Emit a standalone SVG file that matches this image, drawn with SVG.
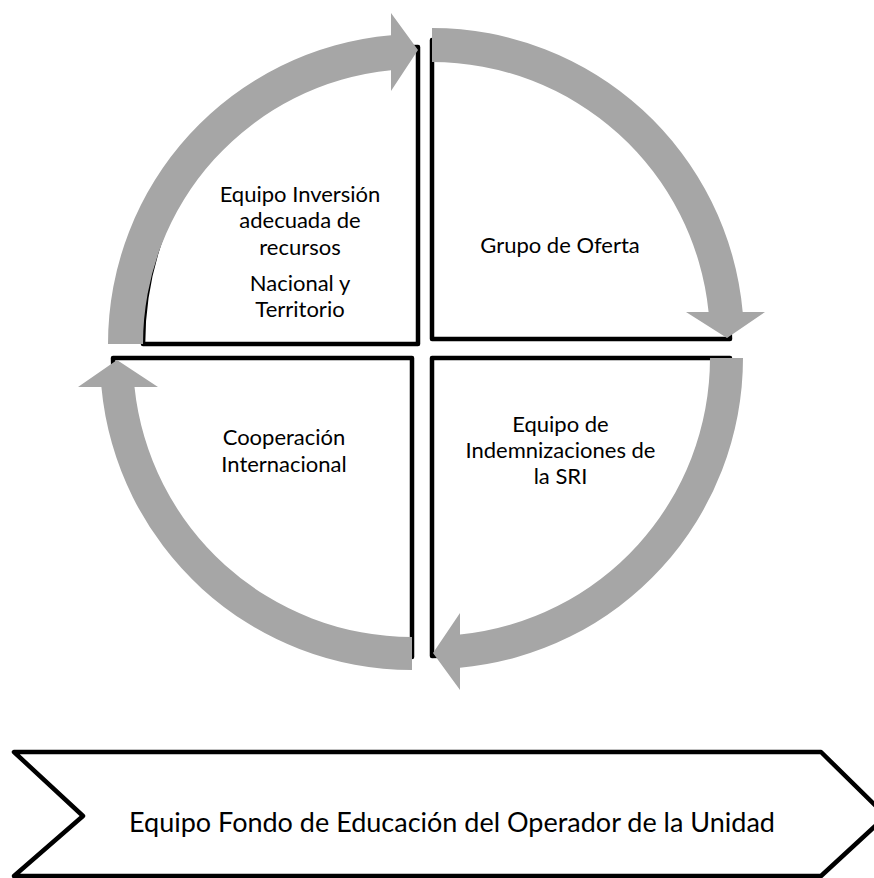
<svg xmlns="http://www.w3.org/2000/svg" width="874" height="878" viewBox="0 0 874 878">
<style>
.q{fill:#fff;stroke:#000;stroke-width:4.5;stroke-linejoin:round}
.arr{fill:#a6a6a6;stroke:none}
.t{font-family:Lato,"Liberation Sans",sans-serif;font-size:22px;fill:#000;text-anchor:middle}
.tb{font-family:Lato,"Liberation Sans",sans-serif;font-size:27px;fill:#000;text-anchor:middle}
</style>
<rect width="874" height="878" fill="#fff"/>
<g id="q-tl">
<path class="q" d="M418,47 L418,344 L143,344 A275,297 0 0 1 418,47 Z"/>
<text class="t" x="300" y="201.7">Equipo Inversión</text>
<text class="t" x="300" y="228.3">adecuada de</text>
<text class="t" x="300" y="255">recursos</text>
<text class="t" x="300" y="290.7">Nacional y</text>
<text class="t" x="300" y="317.3">Territorio</text>
</g>
<g id="q-tr">
<path class="q" d="M432,40 L432,339 L730,339 A298,299 0 0 0 432,40 Z"/>
<text class="t" x="560" y="252.7">Grupo de Oferta</text>
</g>
<g id="q-br">
<path class="q" d="M730,358 L432,358 L432,656 A298,298 0 0 0 730,358 Z"/>
<text class="t" x="560.5" y="431.7">Equipo de</text>
<text class="t" x="560.5" y="458.3">Indemnizaciones de</text>
<text class="t" x="560.5" y="484">la SRI</text>
</g>
<g id="q-bl">
<path class="q" d="M113,358 L412,358 L412,657 A299,299 0 0 1 113,358 Z"/>
<text class="t" x="284" y="445">Cooperación</text>
<text class="t" x="284" y="471.7">Internacional</text>
</g>
<g id="connectors">
<path class="arr" d="M108,344 A310,310 0 0 1 391,35.2 L391,13 L418,50 L391,91 L391,70.3 A275,275 0 0 0 143,344 Z"/>
<path class="arr" d="M432,28 A312,312 0 0 1 742.7,312 L765,312 L727,338 L686,312 L708.6,312 A278,278 0 0 0 432,62 Z"/>
<path class="arr" d="M743,358 A311,311 0 0 1 460,667.7 L460,690 L433,653 L460,613 L460,634.6 A278,278 0 0 0 710,358 Z"/>
<path class="arr" d="M412,670 A312,312 0 0 1 101.4,387 L78,387 L117,360 L158,387 L134.5,387 A279,279 0 0 0 412,637 Z"/>
</g>
<g id="chevron">
<path class="q" d="M14,752 L821,752 L886,816 L821,876 L14,876 L83,816 Z"/>
<text class="tb" x="452" y="832">Equipo Fondo de Educación del Operador de la Unidad</text>
</g>
</svg>
